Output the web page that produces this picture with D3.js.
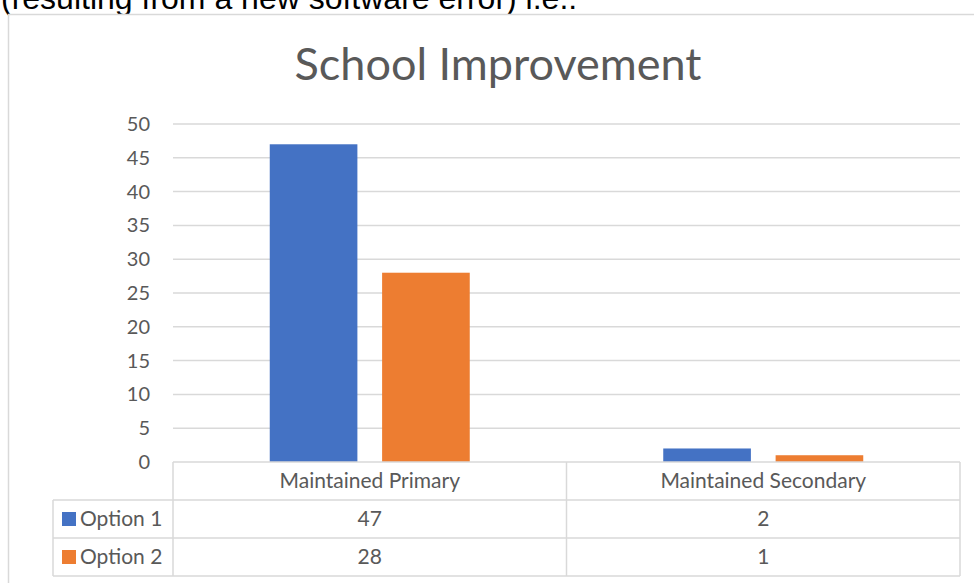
<!DOCTYPE html>
<html>
<head>
<meta charset="utf-8">
<script src="https://cdn.jsdelivr.net/npm/d3@7"></script>
<style>
  html, body { margin: 0; padding: 0; background: #fff; overflow: hidden; }
  svg { display: block; }
</style>
</head>
<body>
<svg id="chart"></svg>
<script>
const categories = ['Maintained Primary', 'Maintained Secondary']
const seriesNames = ['Option 1', 'Option 2']
const option1 = [47, 2]
const option2 = [28, 1]
const yTicks = [0, 5, 10, 15, 20, 25, 30, 35, 40, 45, 50]
const colors = ['#4472c4', '#ed7d31']

const width = 974
const height = 583
const font = 'Lato, "Open Sans", sans-serif'
const textColor = '#595959'
const lineColor = '#d9d9d9'
const labelSize = 21

const svg = d3.select('#chart').attr('width', width).attr('height', height)

// leftover line of the surrounding document, cut off at the top
svg.append('text')
  .attr('x', 1)
  .attr('y', 9)
  .attr('font-family', 'Liberation Sans, Arial, sans-serif')
  .attr('font-size', 32)
  .attr('fill', '#000')
  .text('(resulting from a new software error) i.e.:')

// chart frame
svg.append('rect')
  .attr('x', 8.5).attr('y', 14.5)
  .attr('width', 980).attr('height', 600)
  .attr('fill', '#fff')
  .attr('stroke', lineColor)
  .attr('stroke-width', 1.5)

svg.append('text')
  .attr('x', 498)
  .attr('y', 80)
  .attr('text-anchor', 'middle')
  .attr('font-family', font)
  .attr('font-size', 45)
  .attr('fill', textColor)
  .text('School Improvement')

const plot = { left: 173, right: 960, top: 124, bottom: 462 }

const x = d3.scaleBand()
  .domain(categories)
  .range([plot.left, plot.right])

const xInner = d3.scaleBand()
  .domain(seriesNames)
  .range([x.bandwidth() / 2 - 100, x.bandwidth() / 2 + 100])
  .paddingInner(0.22)

const y = d3.scaleLinear()
  .domain([0, 50])
  .range([plot.bottom, plot.top])

// gridlines
svg.append('g')
  .selectAll('line')
  .data(yTicks.filter(d => d > 0))
  .enter()
  .append('line')
  .attr('x1', plot.left)
  .attr('x2', plot.right)
  .attr('y1', d => y(d))
  .attr('y2', d => y(d))
  .attr('stroke', lineColor)
  .attr('stroke-width', 1.5)

// y axis labels
const yAxis = svg.append('g')
  .attr('transform', `translate(${plot.left - 23},0)`)
  .call(d3.axisLeft(y).tickValues(yTicks).tickSize(0).tickPadding(0))
yAxis.select('.domain').remove()
yAxis.selectAll('text')
  .attr('font-family', font)
  .attr('font-size', labelSize - 1)
  .attr('fill', textColor)

// bars
const rows = categories.map((c, i) => ({ category: c, values: [option1[i], option2[i]] }))
svg.append('g')
  .selectAll('g')
  .data(rows)
  .enter()
  .append('g')
  .attr('transform', d => `translate(${x(d.category)},0)`)
  .selectAll('rect')
  .data(d => d.values.map((v, i) => ({ name: seriesNames[i], value: v, color: colors[i] })))
  .enter()
  .append('rect')
  .attr('x', d => xInner(d.name))
  .attr('width', xInner.bandwidth())
  .attr('y', d => y(d.value))
  .attr('height', d => y(0) - y(d.value))
  .attr('fill', d => d.color)

// data table under the plot
const rowH = 38
const tableLeft = 53
const table = svg.append('g').attr('fill', 'none').attr('stroke', lineColor).attr('stroke-width', 1.5)
table.append('line').attr('x1', plot.left).attr('x2', plot.right).attr('y1', plot.bottom).attr('y2', plot.bottom)
seriesNames.forEach((s, i) => {
  table.append('line')
    .attr('x1', tableLeft).attr('x2', plot.right)
    .attr('y1', plot.bottom + rowH * (i + 1)).attr('y2', plot.bottom + rowH * (i + 1))
})
table.append('line')
  .attr('x1', tableLeft).attr('x2', plot.right)
  .attr('y1', plot.bottom + rowH * 3).attr('y2', plot.bottom + rowH * 3)
table.append('line')
  .attr('x1', tableLeft).attr('x2', tableLeft)
  .attr('y1', plot.bottom + rowH).attr('y2', plot.bottom + rowH * 3)
categories.concat(['end']).forEach((c, i) => {
  const xx = i < categories.length ? x(c) : plot.right
  table.append('line')
    .attr('x1', xx).attr('x2', xx)
    .attr('y1', plot.bottom).attr('y2', plot.bottom + rowH * 3)
})

const labels = svg.append('g')
  .attr('font-family', font)
  .attr('font-size', labelSize)
  .attr('fill', textColor)
  .attr('text-anchor', 'middle')

labels.selectAll('text.cat')
  .data(categories)
  .enter()
  .append('text')
  .attr('x', d => x(d) + x.bandwidth() / 2)
  .attr('y', plot.bottom + 26)
  .text(d => d)

const series = [option1, option2]
series.forEach((vals, si) => {
  const rowY = plot.bottom + rowH * (si + 1)
  labels.selectAll(null)
    .data(vals)
    .enter()
    .append('text')
    .attr('x', (d, i) => x(categories[i]) + x.bandwidth() / 2)
    .attr('y', rowY + 26)
    .text(d => d)
  svg.append('rect')
    .attr('x', 62).attr('y', rowY + 12)
    .attr('width', 14).attr('height', 14)
    .attr('fill', colors[si])
  labels.append('text')
    .attr('text-anchor', 'start')
    .attr('x', 80)
    .attr('y', rowY + 26)
    .text(seriesNames[si])
})
</script>
</body>
</html>
